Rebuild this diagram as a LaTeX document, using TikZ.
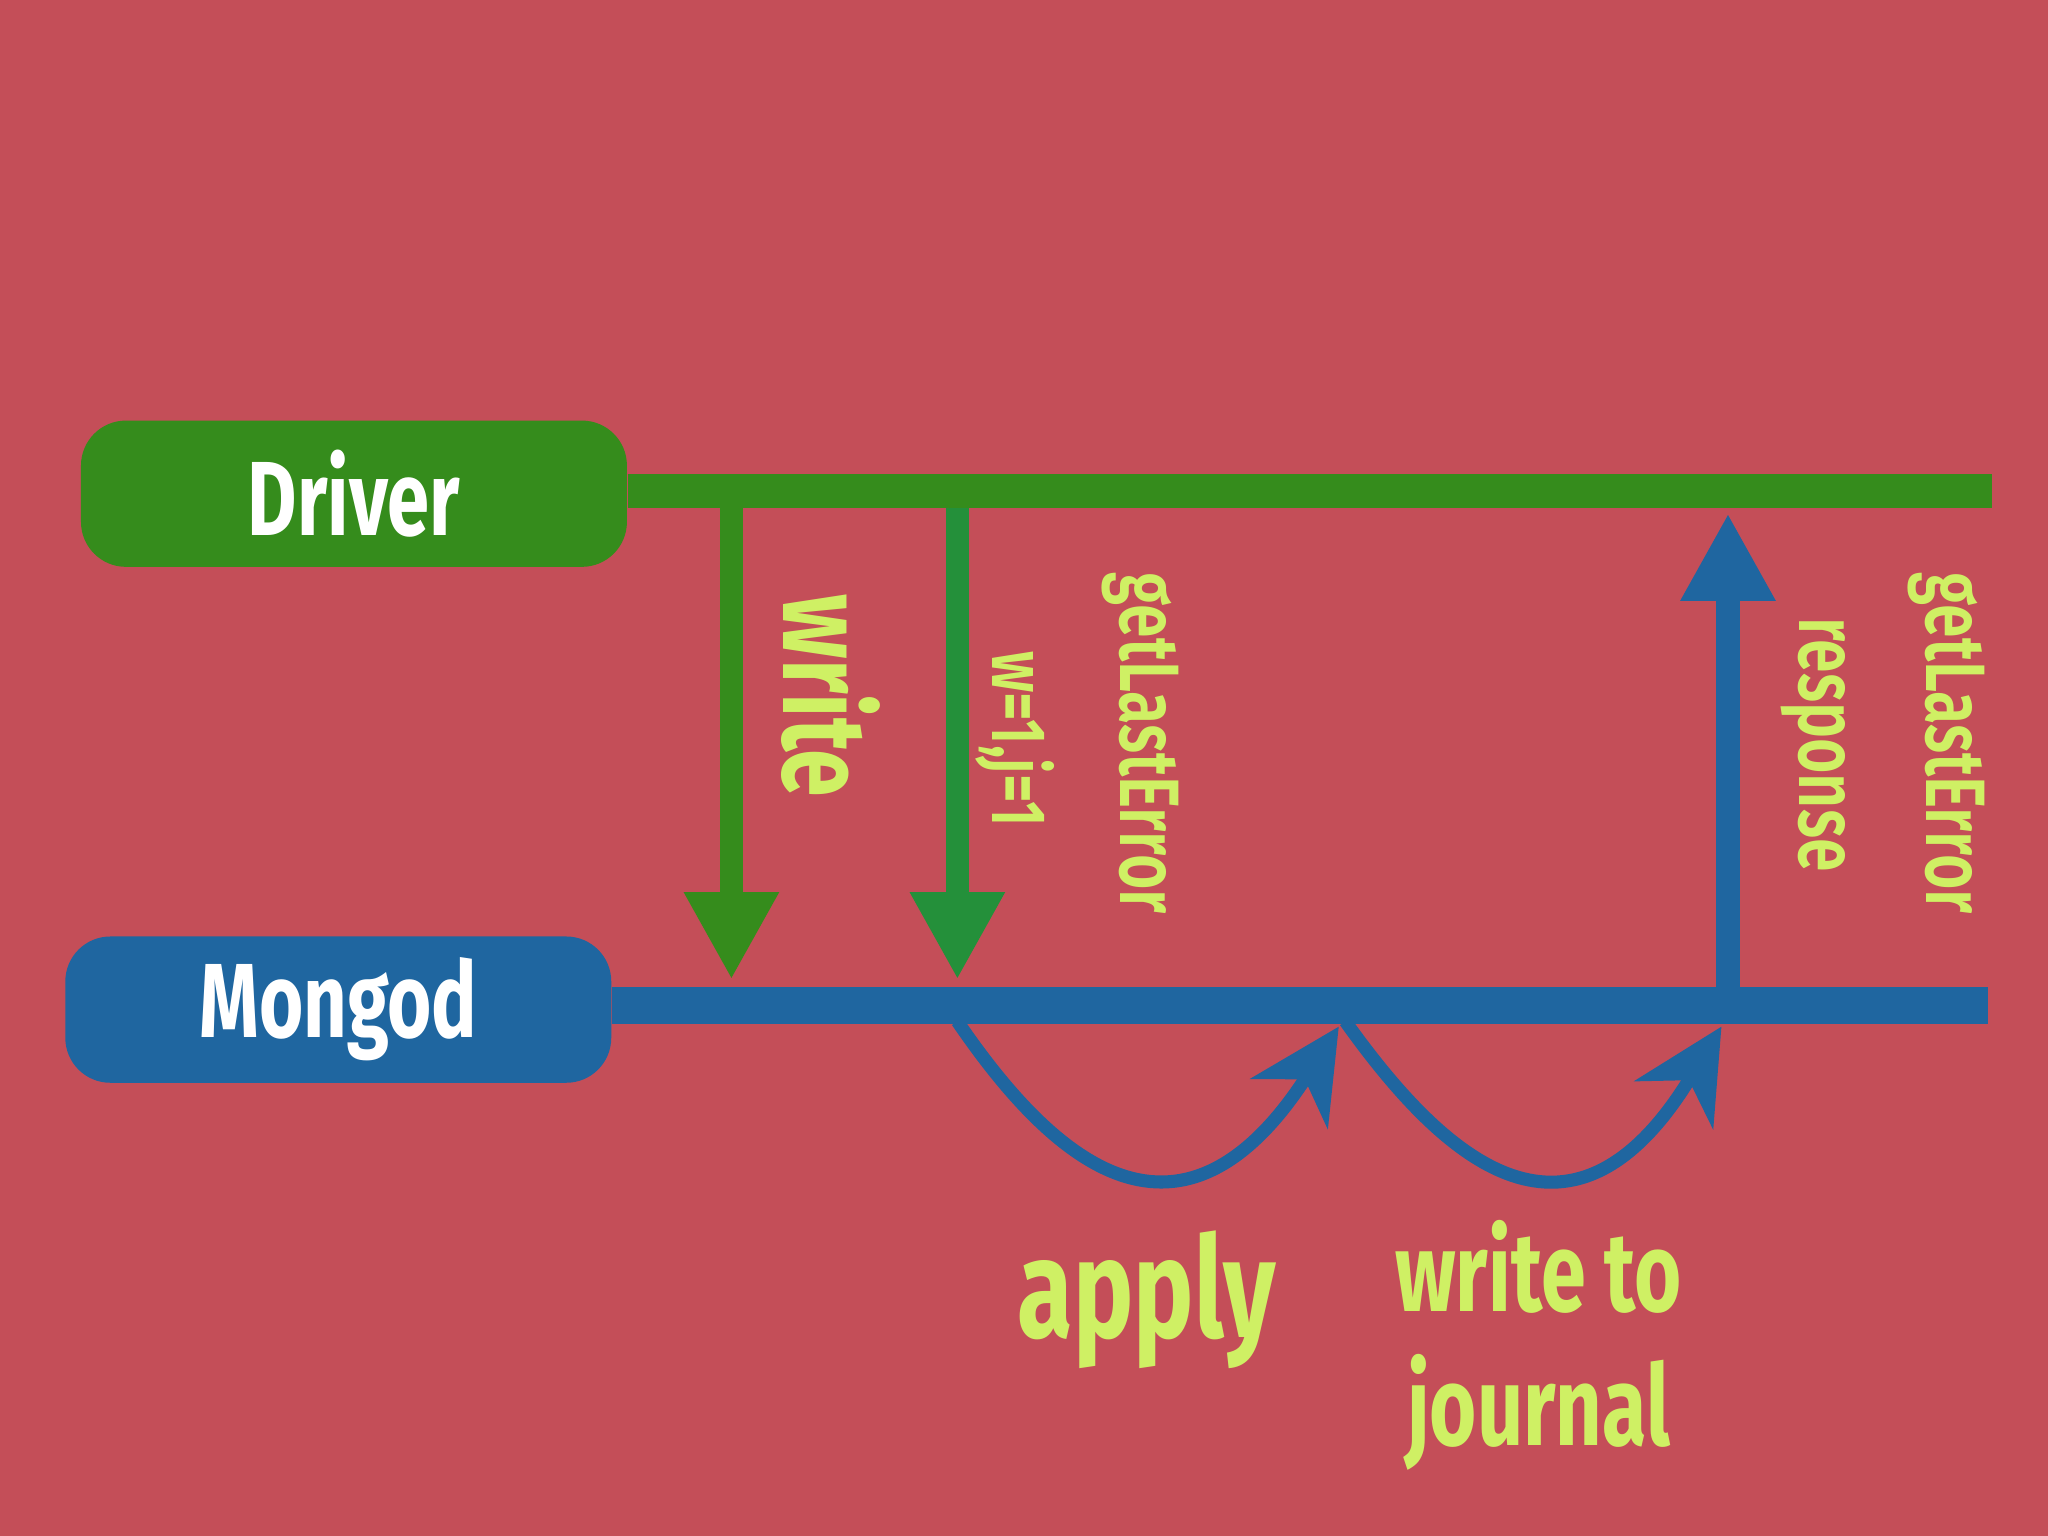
\documentclass[tikz,border=0pt]{standalone}
\usepackage{fontspec}
\setmainfont{Fira Sans}[FakeStretch=0.72,UprightFont=* SemiBold,BoldFont=* Bold]
\usetikzlibrary{arrows.meta}
\definecolor{bg}{HTML}{C44E58}
\definecolor{drv}{HTML}{358C1C}
\definecolor{drvb}{HTML}{24903A}
\definecolor{mgd}{HTML}{1F66A0}
\definecolor{lbl}{HTML}{CFF064}
\begin{document}
\begin{tikzpicture}[x=0.013061cm,y=-0.013061cm,
  box/.style={rounded corners=0.45cm,minimum width=418*0.013061cm,minimum height=112*0.013061cm,inner sep=0pt,text=white,font=\bfseries\fontsize{30}{30}\selectfont},
  down/.style={line width=18*0.013061cm,-{Triangle[width=68*0.013061cm,length=67*0.013061cm]}},
  loopar/.style={mgd,line width=10*0.013061cm,-{Stealth[width=70*0.013061cm,length=70*0.013061cm,inset=22*0.013061cm]}},
  vlbl/.style={text=lbl,rotate=-90,inner sep=0pt}]
\fill[bg] (0,0) rectangle (1568,1176);
\useasboundingbox (0,0) rectangle (1568,1176);
\node[box,fill=drv] (drv) at (271,378) {Driver};
\node[box,fill=mgd] (mgd) at (259,773) {Mongod};
\coordinate (dEnd) at (1525,376);
\coordinate (mEnd) at (1522,770);
\draw[drv,line width=26*0.013061cm] (drv.east|-dEnd) -- (dEnd);
\draw[mgd,line width=28*0.013061cm] (mgd.east|-mEnd) -- (mEnd);
% requests
\coordinate (w0) at (560,389); \coordinate (w1) at (560,750);
\coordinate (g0) at (733,389); \coordinate (g1) at (733,750);
\draw[down,drv] (w0) -- (w1);
\draw[down,drvb] (g0) -- (g1);
\coordinate (r0) at (1323,757); \coordinate (r1) at (1323,393);
\draw[down,mgd] (r0) -- (r1);
% labels
\node[vlbl,font=\bfseries\fontsize{34}{34}\selectfont] (lw) at (636,533) {write};
\node[vlbl,font=\fontsize{22}{22}\selectfont] (lwj) at (777,566) {w=1,j=1};
\node[vlbl,font=\fontsize{24}{24}\selectfont] (lg1) at (873,569) {getLastError};
\node[vlbl,font=\fontsize{24}{24}\selectfont] (lr) at (1388,570) {response};
\node[vlbl,font=\fontsize{24}{24}\selectfont] (lg2) at (1490,569) {getLastError};
% internal steps
\coordinate (a0) at (733,782); \coordinate (a1) at (1025,786);
\coordinate (b0) at (1030,782); \coordinate (b1) at (1318,786);
\draw[loopar] (a0) .. controls (800,880) and (900,980) .. (a1);
\draw[loopar] (b0) .. controls (1100,880) and (1200,980) .. (b1);
\node[text=lbl,font=\bfseries\fontsize{40}{40}\selectfont] (la) at (878,995) {apply};
\node[text=lbl,font=\bfseries\fontsize{32}{38}\selectfont,align=center] (lj) at (1178,1030) {write to\\journal};
\end{tikzpicture}
\end{document}
